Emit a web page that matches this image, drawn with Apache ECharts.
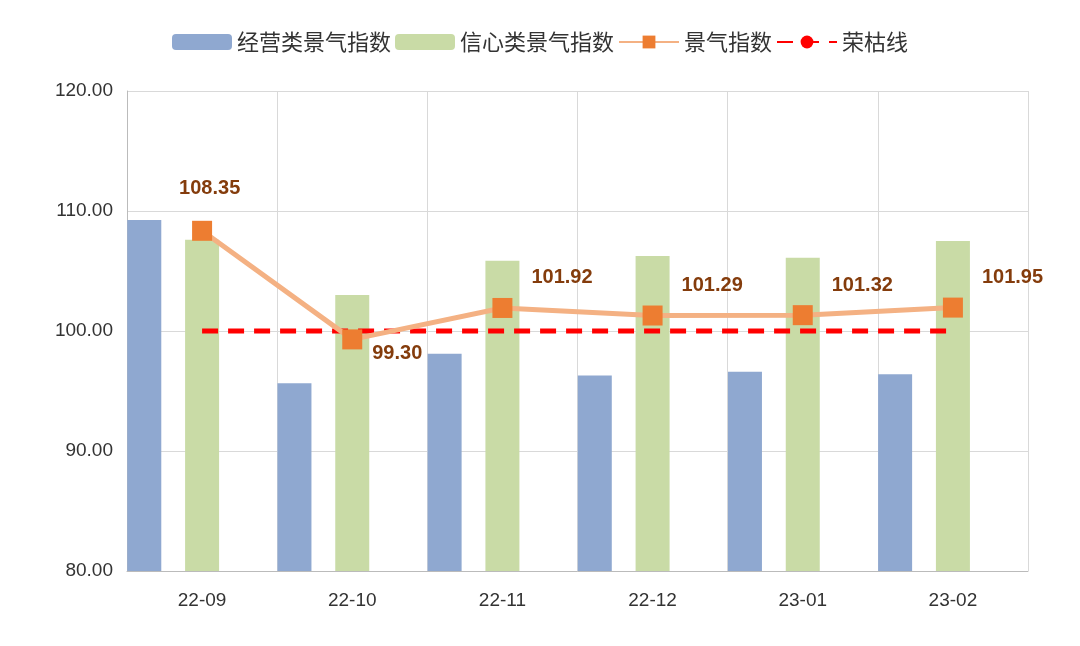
<!DOCTYPE html>
<html><head><meta charset="utf-8">
<script src="https://cdn.jsdelivr.net/npm/echarts@6/dist/echarts.min.js"></script>
<style>html,body{margin:0;background:#fff}#c{width:1080px;height:646px}</style>
</head><body><div id="c"></div>
<script>
var months = ['22-09', '22-10', '22-11', '22-12', '23-01', '23-02'];
var opIndex = [109.25, 95.65, 98.1, 96.3, 96.6, 96.4];
var confIndex = [107.6, 103.0, 105.85, 106.25, 106.1, 107.5];
var mainIndex = [108.35, 99.30, 101.92, 101.29, 101.32, 101.95];
var boomLine = [100, 100, 100, 100, 100, 100];
var labelPos = [[-38, -42], [5, 14], [14, -30], [14, -30], [14, -30], [14, -30]];

var chart = echarts.init(document.getElementById('c'));
var font = 'Liberation Sans, Arial, Noto Sans CJK SC, sans-serif';
chart.setOption({
  animation: false,
  textStyle: { fontFamily: font },
  legend: {
    top: 26, left: 'center', itemWidth: 60, itemHeight: 16, itemGap: 4,
    textStyle: { fontSize: 22, color: '#333', fontFamily: 'Noto Sans CJK SC' },
    data: ['经营类景气指数', '信心类景气指数', '景气指数', '荣枯线']
  },
  grid: { left: 127, right: 52, top: 91, bottom: 75 },
  xAxis: {
    type: 'category', data: months,
    axisLine: { lineStyle: { color: '#bbb' } }, axisTick: { show: false },
    splitLine: { show: true, lineStyle: { color: '#d9d9d9' } },
    axisLabel: { fontSize: 19, color: '#333', margin: 20 }
  },
  yAxis: {
    type: 'value', min: 80, max: 120, interval: 10,
    axisLine: { show: true, lineStyle: { color: '#bbb' } },
    splitLine: { lineStyle: { color: '#d9d9d9' } },
    axisLabel: { fontSize: 19, color: '#333', margin: 14, formatter: function (v) { return v.toFixed(2); } }
  },
  series: [
    { name: '经营类景气指数', type: 'bar', data: opIndex, barWidth: 34, barGap: '70%',
      itemStyle: { color: '#8FA8D0' } },
    { name: '信心类景气指数', type: 'bar', data: confIndex, barWidth: 34, barGap: '70%',
      itemStyle: { color: '#C9DBA6' } },
    { name: 'pad', type: 'bar', data: months.map(function () { return '-'; }), barWidth: 34, barGap: '70%' },
    { name: '景气指数', type: 'line', data: mainIndex.map(function (v, i) {
        return { value: v, label: { offset: labelPos[i] } };
      }),
      symbol: 'rect', symbolSize: 20, z: 5,
      lineStyle: { color: '#F4B183', width: 5 }, itemStyle: { color: '#ED7D31' },
      label: { show: true, position: 'right', fontSize: 20, fontWeight: 'bold', color: '#843C0C',
        formatter: function (p) { return p.value.toFixed(2); } } },
    { name: '荣枯线', type: 'line', data: boomLine, symbol: 'none', z: 4,
      lineStyle: { color: '#FF0000', width: 5, type: [16, 10] }, itemStyle: { color: '#FF0000' } }
  ]
});
</script></body></html>
